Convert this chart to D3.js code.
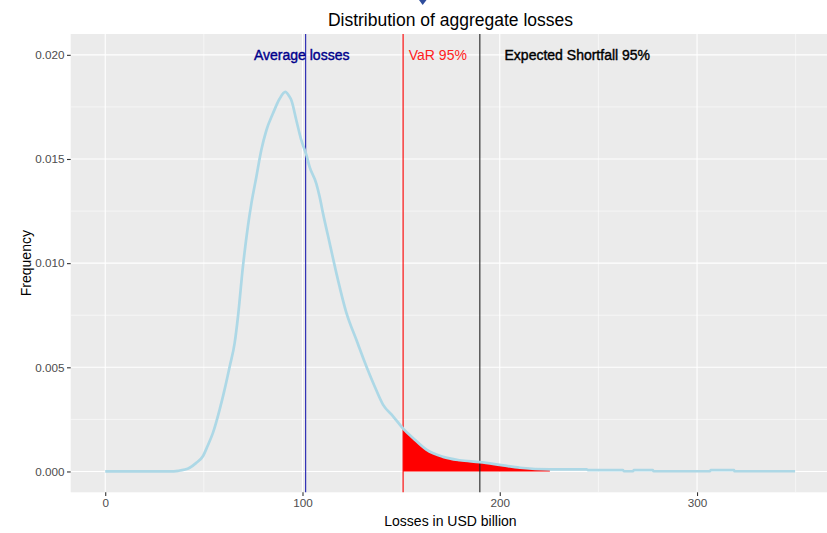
<!DOCTYPE html>
<html>
<head>
<meta charset="utf-8">
<script src="https://cdn.jsdelivr.net/npm/d3@7"></script>
<style>
  body { margin: 0; background: #fff; }
  svg { display: block; font-family: "Liberation Sans", Arial, sans-serif; }
</style>
</head>
<body>
<div id="chart-area"></div>
<script>
// density of aggregate losses
const lossX = [0, 20, 32.6, 37, 42.8, 46, 49.5, 52, 54.6, 58, 60.5, 63.1, 65.6, 67.3, 69.8, 72.3, 74.1, 76.6,
  79.1, 81.7, 85, 88.4, 91.3, 93, 94.4, 96.9, 99.4, 102, 103.6, 107, 108.7, 110.4, 113.8, 117.2, 122.3, 127.3,
  132.4, 136.6, 140.8, 145.9, 151, 156, 162.8, 171.3, 179.7, 189.9, 201.7, 210.2, 225.4, 244, 245, 262.4, 263,
  267.5, 268, 277.5, 278, 306.5, 307, 318.7, 319, 349.7];
const lossY = [0, 0, 0, 0.00003, 0.00018, 0.0004, 0.00073, 0.00125, 0.00185, 0.00297, 0.00393, 0.00504, 0.00616,
  0.00744, 0.00983, 0.01175, 0.01287, 0.01414, 0.01542, 0.01638, 0.01718, 0.01789, 0.01822, 0.01805, 0.01781,
  0.01685, 0.0159, 0.01518, 0.01462, 0.01382, 0.01318, 0.01239, 0.01095, 0.00951, 0.0076, 0.00632, 0.00504,
  0.00408, 0.00321, 0.00265, 0.00206, 0.00161, 0.00105, 0.0007, 0.00054, 0.00045, 0.00029, 0.00018, 0.0001,
  0.0001, 0.00006, 0.00006, 0.00001, 0.00001, 0.00006, 0.00006, 0.00001, 0.00001, 0.00006, 0.00006, 0.00001, 0.00001];

// risk measures
const measureNames = ['Average losses', 'VaR 95%', 'Expected Shortfall 95%'];
const measureValues = [101.6, 151, 189.9];
const labelX = [99.6, 168.6, 239.3];
const labelY = 0.02;
const tailEnd = 226;

const xTicks = [0, 100, 200, 300];
const xMinor = [50, 150, 250, 350];
const yTicks = [0, 0.005, 0.01, 0.015, 0.02];
const yMinor = [0.0025, 0.0075, 0.0125, 0.0175];

const W = 827, H = 533;
const margin = { top: 34, right: -3.2, bottom: 40.7, left: 70.7 };
const width = W - margin.left - margin.right;
const height = H - margin.top - margin.bottom;

const density = lossX.map((x, i) => ({ x: x, y: lossY[i] }));

const svg = d3.select('#chart-area')
  .append('svg')
  .attr('width', W)
  .attr('height', H);

const x = d3.scaleLinear()
  .domain([-17.5, 367.5])
  .range([0, width]);

const y = d3.scaleLinear()
  .domain([-0.001, 0.021])
  .range([height, 0]);

const g = svg.append('g')
  .attr('transform', `translate(${margin.left}, ${margin.top})`);

// panel
g.append('rect')
  .attr('width', width)
  .attr('height', height)
  .attr('fill', '#ebebeb');

// grid
g.selectAll('.xminor').data(xMinor).enter().append('line')
  .attr('x1', d => x(d)).attr('x2', d => x(d))
  .attr('y1', 0).attr('y2', height)
  .attr('stroke', '#fff').attr('stroke-width', 0.55);
g.selectAll('.yminor').data(yMinor).enter().append('line')
  .attr('y1', d => y(d)).attr('y2', d => y(d))
  .attr('x1', 0).attr('x2', width)
  .attr('stroke', '#fff').attr('stroke-width', 0.55);
g.selectAll('.xmajor').data(xTicks).enter().append('line')
  .attr('x1', d => x(d)).attr('x2', d => x(d))
  .attr('y1', 0).attr('y2', height)
  .attr('stroke', '#fff').attr('stroke-width', 1.1);
g.selectAll('.ymajor').data(yTicks).enter().append('line')
  .attr('y1', d => y(d)).attr('y2', d => y(d))
  .attr('x1', 0).attr('x2', width)
  .attr('stroke', '#fff').attr('stroke-width', 1.1);

// tail area beyond VaR
const tail = density.filter(d => d.x >= measureValues[1] && d.x <= tailEnd);
g.append('path')
  .datum(tail)
  .attr('fill', '#ff0000')
  .attr('d', d3.area().curve(d3.curveMonotoneX).x(d => x(d.x)).y0(y(0)).y1(d => y(d.y)));

// vertical lines
const lineColors = ['#2020b0', '#ff0000', '#222222'];
g.selectAll('.vline').data(measureValues).enter().append('line')
  .attr('x1', d => x(d)).attr('x2', d => x(d))
  .attr('y1', 0).attr('y2', height)
  .attr('stroke', (d, i) => lineColors[i])
  .attr('stroke-width', 1.1);

// density curve
g.append('path')
  .datum(density)
  .attr('fill', 'none')
  .attr('stroke', '#add8e6')
  .attr('stroke-width', 2.7)
  .attr('stroke-linejoin', 'round')
  .attr('d', d3.line().curve(d3.curveMonotoneX).x(d => x(d.x)).y(d => y(d.y)));

// labels
const labelColors = ['#00008b', '#ff2020', '#000000'];
const labelStroke = [0.4, 0, 0.4];
g.selectAll('.mlabel').data(measureNames).enter().append('text')
  .attr('x', (d, i) => x(labelX[i]))
  .attr('y', y(labelY))
  .attr('dy', '0.36em')
  .attr('text-anchor', 'middle')
  .attr('font-size', '14px')
  .attr('fill', (d, i) => labelColors[i])
  .attr('stroke', (d, i) => labelStroke[i] ? labelColors[i] : 'none')
  .attr('stroke-width', (d, i) => labelStroke[i])
  .text(d => d);

// axes
const xAxis = g.append('g')
  .attr('transform', `translate(0, ${height})`)
  .call(d3.axisBottom(x).tickValues(xTicks).tickSize(3.7).tickPadding(3).tickFormat(d3.format('d')));
const yAxis = g.append('g')
  .call(d3.axisLeft(y).tickValues(yTicks).tickSize(3.7).tickPadding(2.5).tickFormat(d3.format('.3f')));

[xAxis, yAxis].forEach(a => {
  a.select('.domain').remove();
  a.selectAll('line').attr('stroke', '#333').attr('stroke-width', 1.1);
  a.selectAll('text').attr('fill', '#4d4d4d').attr('font-size', '11.7px')
    .attr('font-family', '"Liberation Sans", Arial, sans-serif');
});

// axis titles
svg.append('text')
  .attr('x', margin.left + width / 2)
  .attr('y', 526)
  .attr('text-anchor', 'middle')
  .attr('font-size', '14px')
  .attr('fill', '#000')
  .text('Losses in USD billion');

svg.append('text')
  .attr('transform', 'rotate(-90)')
  .attr('x', -(margin.top + height / 2))
  .attr('y', 31)
  .attr('text-anchor', 'middle')
  .attr('font-size', '14px')
  .attr('fill', '#000')
  .text('Frequency');

// title
svg.append('text')
  .attr('x', margin.left + width / 2)
  .attr('y', 26)
  .attr('text-anchor', 'middle')
  .attr('font-size', '17.5px')
  .attr('fill', '#000')
  .text('Distribution of aggregate losses');

// small marker cut off at the top
svg.append('path')
  .attr('d', 'M419,0L426.5,0L422.7,5Z')
  .attr('fill', '#2e4c9c');
</script>
</body>
</html>
